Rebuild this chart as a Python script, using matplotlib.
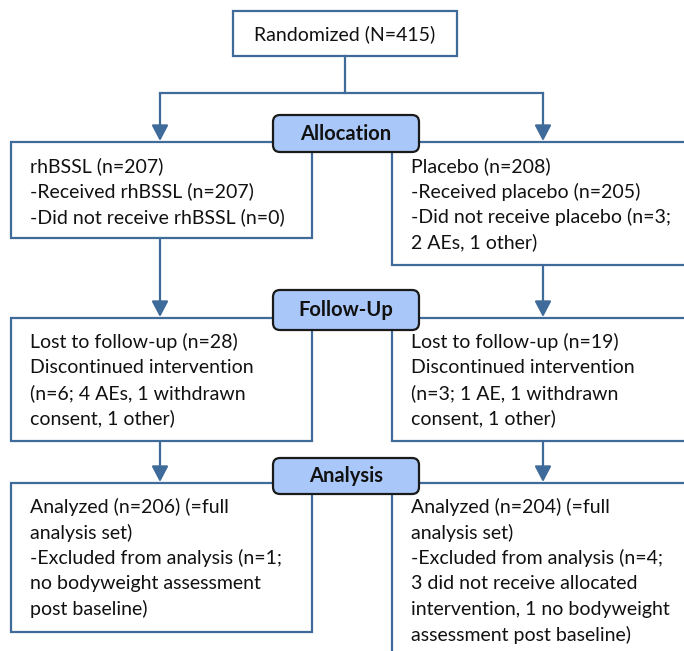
import matplotlib.pyplot as plt
from matplotlib.patches import Rectangle, FancyBboxPatch

plt.rcParams['font.family'] = ['Lato', 'DejaVu Sans']

# box texts
top_text = "Randomized (N=415)"
stages = ["Allocation", "Follow-Up", "Analysis"]
left_texts = [
    ["rhBSSL (n=207)", "-Received rhBSSL (n=207)", "-Did not receive rhBSSL (n=0)"],
    ["Lost to follow-up (n=28)", "Discontinued intervention",
     "(n=6; 4 AEs, 1 withdrawn", "consent, 1 other)"],
    ["Analyzed (n=206) (=full", "analysis set)", "-Excluded from analysis (n=1;",
     "no bodyweight assessment", "post baseline)"],
]
right_texts = [
    ["Placebo (n=208)", "-Received placebo (n=205)", "-Did not receive placebo (n=3;",
     "2 AEs, 1 other)"],
    ["Lost to follow-up (n=19)", "Discontinued intervention",
     "(n=3; 1 AE, 1 withdrawn", "consent, 1 other)"],
    ["Analyzed (n=204) (=full", "analysis set)", "-Excluded from analysis (n=4;",
     "3 did not receive allocated", "intervention, 1 no bodyweight",
     "assessment post baseline)"],
]

# layout (pixels)
edge = '#3f6b9a'
lbl_fill = '#a9c7f8'
fs = 14
line_h = 25.5
left_x, left_w = 11, 301
right_x, right_w = 392, 330
left_ax, right_ax = 160, 543
row_tops = [142, 318, 483]
left_bottoms = [238, 441, 632]
right_bottoms = [265, 441, 720]
label_boxes = [(115, 152), (290, 330), (458, 494)]

fig = plt.figure(figsize=(6.84, 6.51), dpi=100)
ax = fig.add_axes([0, 0, 1, 1])
ax.set_xlim(0, 684)
ax.set_ylim(651, 0)
ax.axis('off')


def arrow(x, y0, y1):
    ax.annotate('', xy=(x, y1), xytext=(x, y0),
                arrowprops=dict(arrowstyle='-|>,head_length=0.95,head_width=0.5',
                                mutation_scale=10, color=edge, lw=1.6,
                                shrinkA=0, shrinkB=0))


# top box
ax.add_patch(Rectangle((233, 11), 224, 45, fc='white', ec=edge, lw=1.6))
ax.text(345, 34, top_text, ha='center', va='center', fontsize=fs, color='#111111')
ax.plot([345, 345], [56, 93], color=edge, lw=1.6)
ax.plot([left_ax, right_ax], [93, 93], color=edge, lw=1.6)
arrow(left_ax, 93, 141)
arrow(right_ax, 93, 141)

for i in range(3):
    t = row_tops[i]
    ax.add_patch(Rectangle((left_x, t), left_w, left_bottoms[i] - t,
                           fc='white', ec=edge, lw=1.6, zorder=2))
    ax.add_patch(Rectangle((right_x, t), right_w, right_bottoms[i] - t,
                           fc='white', ec=edge, lw=1.6, zorder=2, clip_on=True))
    for j, s in enumerate(left_texts[i]):
        ax.text(30, t + 24 + j * line_h, s, ha='left', va='center',
                fontsize=fs, color='#111111', zorder=3)
    for j, s in enumerate(right_texts[i]):
        ax.text(411, t + 24 + j * line_h, s, ha='left', va='center',
                fontsize=fs, color='#111111', zorder=3)
    if i < 2:
        arrow(left_ax, left_bottoms[i], row_tops[i + 1] - 1)
        arrow(right_ax, right_bottoms[i], row_tops[i + 1] - 1)
    y0, y1 = label_boxes[i]
    ax.add_patch(FancyBboxPatch((273, y0), 146, y1 - y0,
                                boxstyle='round,pad=0,rounding_size=7',
                                fc=lbl_fill, ec='#1a1a1a', lw=1.6, zorder=4))
    ax.text(346, (y0 + y1) / 2, stages[i], ha='center', va='center',
            fontsize=14.5, fontweight='bold', color='#111111', zorder=5)

fig.savefig('out.png', dpi=100)
